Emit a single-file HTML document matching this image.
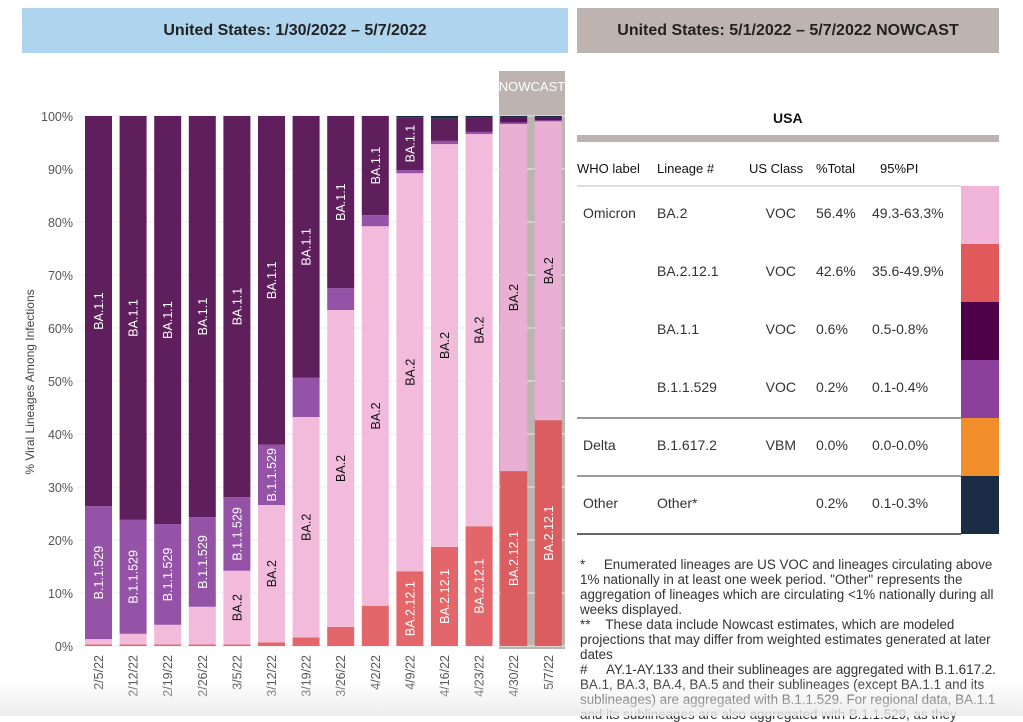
<!DOCTYPE html>
<html><head><meta charset="utf-8">
<style>
body{margin:0;width:1023px;height:716px;overflow:hidden;background:#fff;font-family:"Liberation Sans",sans-serif;position:relative}
.banner{position:absolute;font-weight:bold;font-size:16px;color:#222;text-align:center;line-height:45px}
.t{position:absolute;font-size:14px;color:#333;white-space:nowrap}
.sw{position:absolute;left:961px;width:38px}
.hl{position:absolute;left:577px;height:2px}
#notes{position:absolute;left:580px;top:557px;width:416px;font-size:13.4px;line-height:15px;color:#333}
#fade{position:absolute;left:0;top:680px;width:1023px;height:36px;background:linear-gradient(rgba(255,255,255,0),rgba(235,235,235,0.9))}
</style></head><body>
<div class="banner" style="left:22px;top:8px;width:546px;height:45px;background:#aed4ee">United States: 1/30/2022 – 5/7/2022</div>
<div class="banner" style="left:577px;top:8px;width:422px;height:45px;background:#bdb3b0">United States: 5/1/2022 – 5/7/2022 NOWCAST</div>

<svg id="chart" width="570" height="716" style="position:absolute;left:0;top:0">
<rect x="499" y="97" width="66" height="552" fill="#bdb3b0"/>
<rect x="499" y="71" width="66" height="30" fill="#bdb3b0"/>
<text x="532" y="91" text-anchor="middle" font-size="13" fill="#fff">NOWCAST</text>
<rect x="530" y="101" width="4" height="548" fill="#bdb3b0"/>
<g id="grid"></g><g id="bars"></g><g id="labels"></g>
<text transform="translate(34,382) rotate(-90)" text-anchor="middle" font-size="12" fill="#444">% Viral Lineages Among Infections</text>
</svg>

<div class="t" style="left:773px;top:110px;font-weight:bold;font-size:14px;color:#111">USA</div>
<div class="hl" style="top:135px;width:422px;height:7px;background:#bdb3b0"></div>
<div class="t" style="left:577px;top:161px;color:#111;font-size:13px">WHO label</div>
<div class="t" style="left:657px;top:161px;color:#111;font-size:13px">Lineage #</div>
<div class="t" style="left:749px;top:161px;color:#111;font-size:13px">US Class</div>
<div class="t" style="left:816px;top:161px;color:#111;font-size:13px">%Total</div>
<div class="t" style="left:880px;top:161px;color:#111;font-size:13px">95%PI</div>
<div class="hl" style="top:185px;width:384px;background:#ddd"></div>
<div id="rows"></div>
<div class="hl" style="top:417px;width:384px;background:#999"></div>
<div class="hl" style="top:475px;width:384px;background:#999"></div>
<div class="hl" style="top:533px;width:384px;background:#666"></div>

<div id="notes">*&nbsp;&nbsp;&nbsp;&nbsp;&nbsp;Enumerated lineages are US VOC and lineages circulating above 1% nationally in at least one week period. "Other" represents the aggregation of lineages which are circulating &lt;1% nationally during all weeks displayed.<br>**&nbsp;&nbsp;&nbsp;&nbsp;These data include Nowcast estimates, which are modeled projections that may differ from weighted estimates generated at later dates<br>#&nbsp;&nbsp;&nbsp;&nbsp;&nbsp;AY.1-AY.133 and their sublineages are aggregated with B.1.617.2. BA.1, BA.3, BA.4, BA.5 and their sublineages (except BA.1.1 and its sublineages) are aggregated with B.1.1.529. For regional data, BA.1.1 and its sublineages are also aggregated with B.1.1.529, as they</div>
<div id="fade"></div>

<script>
const dates=["2/5/22","2/12/22","2/19/22","2/26/22","3/5/22","3/12/22","3/19/22","3/26/22","4/2/22","4/9/22","4/16/22","4/23/22","4/30/22","5/7/22"];
const ba2121=[0.3,0.3,0.3,0.3,0.3,0.7,1.6,3.6,7.6,14.1,18.7,22.6,33.0,42.6];
const ba2=[1.0,2.0,3.7,7.1,13.9,25.9,41.6,59.8,71.6,75.1,76.0,74.0,65.5,56.4];
const b11529=[25.1,21.5,19.0,16.9,13.9,11.4,7.4,4.1,2.1,0.6,0.6,0.4,0.3,0.2];
const ba11=[73.6,76.2,77.0,75.7,71.9,62.0,49.4,32.5,18.7,10.0,4.2,2.7,1.0,0.6];
const other=[0,0,0,0,0,0,0,0,0,0.2,0.5,0.3,0.2,0.2];
const yTicks=[0,10,20,30,40,50,60,70,80,90,100];
const series=[["BA.2.12.1",ba2121,"#e3676a","#dc5d5f","#fff"],["BA.2",ba2,"#f2bbdc","#e9b0d3","#111"],["B.1.1.529",b11529,"#9553a8","#8e4ba3","#fff"],["BA.1.1",ba11,"#5f1f5c","#57135a","#fff"],["Other",other,"#1b2d45","#1b2d45","#fff"]];
const NS="http://www.w3.org/2000/svg";
const y0=646,y100=116;
function y(v){return y0-(y0-y100)*v/100;}
function x(i){return 85+i*34.6;}
const bw=27;
const grid=document.getElementById('grid'),bars=document.getElementById('bars'),labels=document.getElementById('labels');
yTicks.forEach(t=>{
  const l=document.createElementNS(NS,'line');
  
  
  l.setAttribute('x1',76);l.setAttribute('x2',566);l.setAttribute('y1',y(t));l.setAttribute('y2',y(t));
  l.setAttribute('stroke','#ececec');grid.appendChild(l);
  const tx=document.createElementNS(NS,'text');
  
  
  tx.setAttribute('x',73);tx.setAttribute('y',y(t)+5);tx.setAttribute('text-anchor','end');
  tx.setAttribute('font-size','12.5');tx.setAttribute('fill','#555');tx.textContent=t+'%';grid.appendChild(tx);
});
dates.forEach((d,i)=>{
  let cum=0;const now=i>=12;
  series.forEach(s=>{
    const v=s[1][i];if(v<=0){return;}
    const r=document.createElementNS(NS,'rect');
    
    
    const top=y(cum+v),bot=y(cum);
    r.setAttribute('x',x(i));r.setAttribute('width',bw);r.setAttribute('y',top);r.setAttribute('height',Math.max(bot-top,0.8));
    r.setAttribute('fill',now?s[3]:s[2]);bars.appendChild(r);
    if(v>=9.5){
      const t=document.createElementNS(NS,'text');
      
      
      const cx=x(i)+bw/2+4.5,cy=(top+bot)/2;
      t.setAttribute('transform','translate('+cx+','+cy+') rotate(-90)');
      t.setAttribute('text-anchor','middle');t.setAttribute('font-size','12.5');t.setAttribute('fill',s[4]);
      t.textContent=s[0];labels.appendChild(t);
    }
    cum+=v;
  });
  const t=document.createElementNS(NS,'text');
  
  
  t.setAttribute('transform','translate('+(x(i)+bw/2+4.5)+',655) rotate(-90)');
  t.setAttribute('text-anchor','end');t.setAttribute('font-size','12.5');t.setAttribute('fill','#555');
  t.textContent=d;labels.appendChild(t);
});
const who=["Omicron","","","","Delta","Other"];
const lin=["BA.2","BA.2.12.1","BA.1.1","B.1.1.529","B.1.617.2","Other*"];
const cls=["VOC","VOC","VOC","VOC","VBM",""];
const pct=["56.4%","42.6%","0.6%","0.2%","0.0%","0.2%"];
const pi=["49.3-63.3%","35.6-49.9%","0.5-0.8%","0.1-0.4%","0.0-0.0%","0.1-0.3%"];
const swc=["#f0b5d8","#e1595b","#4f0048","#8b409c","#f08e2c","#1a2d44"];
const rows=document.getElementById('rows');
for(let k=0;k<6;k++){
  const top=186+k*58;
  const sw=document.createElement('div');
  
  
  sw.className='sw';sw.style.top=top+'px';sw.style.height='58px';sw.style.background=swc[k];rows.appendChild(sw);
  const ty=top+28-9;
  [[who[k],583,'left'],[lin[k],657,'left'],[cls[k],796,'right'],[pct[k],816,'left'],[pi[k],872,'left']].forEach(c=>{
    const e=document.createElement('div');
    
    
    e.className='t';e.style.top=ty+'px';
    if(c[2]=='right'){e.style.right=(1023-c[1])+'px';}else{e.style.left=c[1]+'px';}
    e.textContent=c[0];rows.appendChild(e);
  });
}
</script>
</body></html>
